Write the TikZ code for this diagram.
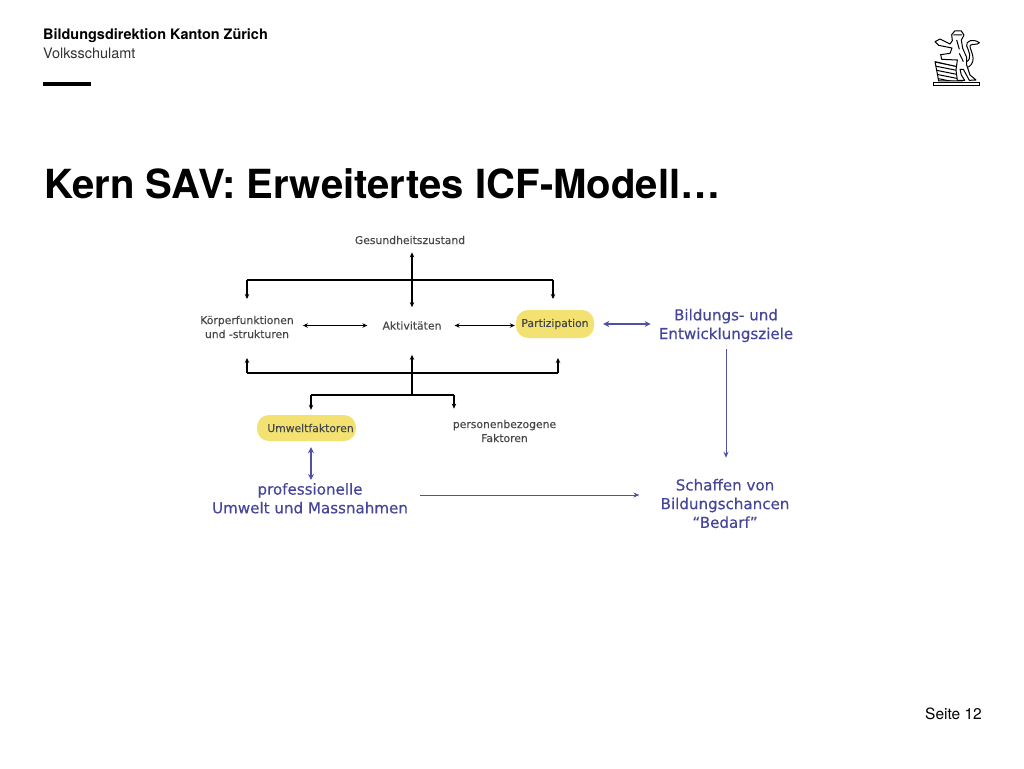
\documentclass[tikz,border=0pt]{standalone}
\usepackage{fontspec}
\setmainfont{TeX Gyre Heros}
\newfontfamily\diagramfont[FakeBold=0.2]{DejaVu Sans}
\newfontfamily\planfont[FakeBold=0.35]{DejaVu Sans}
\usepackage{xcolor}
\usepackage{tikz}
\usetikzlibrary{arrows.meta}
\usetikzlibrary{positioning}
\definecolor{planblue}{HTML}{45459A}
\definecolor{arrowblue}{HTML}{5050A4}
\definecolor{markyellow}{HTML}{F3E272}
\tikzset{
icf/.style = { font = \diagramfont\fontsize{10.8}{14}\selectfont, text = black!72, align = center, inner sep = 0pt },
plan/.style = { font = \planfont\fontsize{15.1}{18.7}\selectfont, text = planblue, align = center, inner sep = 0pt },
marked/.style = { icf, fill = markyellow, rounded corners = 12pt },
tree/.style = { draw = black, line width = 1.4pt },
tree end/.style = { tree, -{Stealth[length = 5pt, width = 4.5pt]} },
tree both/.style = { tree, line width = 1.1pt, {Stealth[length = 5pt, width = 4.5pt]}-{Stealth[length = 5pt, width = 4.5pt]} },
plan end/.style = { draw = arrowblue, line width = 1pt, -{Stealth[length = 6pt, width = 5pt]} },
plan both/.style = { draw = arrowblue, line width = 1.2pt, {Stealth[length = 6pt, width = 6pt]}-{Stealth[length = 6pt, width = 6pt]} },
}
\begin{document}
\begin{tikzpicture}[x = 1pt, y = -1pt]
    \useasboundingbox (0, 0) rectangle (1024, 768);
    % header
    \node[anchor = west, inner sep = 0pt, font = \bfseries\fontsize{14.45}{16}\selectfont] (office) at (43, 35.5) {Bildungsdirektion Kanton Zürich};
    \node[anchor = west, inner sep = 0pt, font = \fontsize{14.45}{16}\selectfont, text = black!80] (unit) at (43, 53) {Volksschulamt};
    \fill[black] (43, 82.2) rectangle (91, 85.8);
    \node[anchor = west, inner sep = 0pt, font = \bfseries\fontsize{40.1}{44}\selectfont] (title) at (44, 184) {Kern SAV: Erweitertes ICF-Modell…};
    \node[anchor = east, inner sep = 0pt, font = \fontsize{15.5}{17}\selectfont] (page) at (982, 714) {Seite 12};
    % logo
    \begin{scope}[shift = {(920, 20)}, scale = 1/3, line width = 1pt, line join = round]
        \fill[black] (38, 185) rectangle (180, 198);
        \fill[white] (42, 188.5) rectangle (176, 194);
        \draw (45, 125) -- (112, 140) -- (128, 183) -- (56, 183) -- cycle;
        \begin{scope}
            \clip (45, 125) -- (112, 140) -- (128, 183) -- (56, 183) -- cycle;
            \foreach \hatch in {125, 137, 149, 161, 173} {
                \draw (40, \hatch) -- (130, \hatch + 18);
            }
        \end{scope}
        \draw (140, 125) .. controls (158, 115) and (145, 90) .. (140, 78) .. controls (136, 62) and (160, 55) .. (178, 68) .. controls (172, 76) and (160, 70) .. (150, 76) .. controls (148, 90) and (175, 120) .. (145, 142);
        \filldraw[fill = white] (45, 65) -- (60, 57) -- (90, 72) -- (97, 62) -- (95, 44) -- (104, 33) -- (124, 33) -- (132, 45) -- (124, 60) -- (128, 85) -- (140, 112) -- (140, 135) -- (150, 165) -- (168, 180) -- (148, 181) -- (130, 148) -- (120, 148) -- (124, 165) -- (134, 181) -- (112, 181) -- (108, 150) -- (112, 120) -- (65, 118) -- (62, 104) -- (90, 100) -- (96, 84) -- (56, 76) -- cycle;
        \draw (100, 45) -- (126, 45) (110, 60) -- (118, 88) (118, 100) -- (130, 125);
    \end{scope}
    % highlighted factors
    \node[marked, minimum width = 78pt, minimum height = 28pt] (partizipation) at (555, 324) {Partizipation};
    \node[marked, minimum width = 99pt, minimum height = 26pt] (umwelt) at (306.5, 428) {\hspace{8pt}Umweltfaktoren};
    % model
    \node[icf] (gesundheit) at (410, 240) {Gesundheitszustand};
    \node[icf] (koerper) at (247, 327) {Körperfunktionen\\und -strukturen};
    \node[icf] (aktivitaet) at (412, 325.5) {Aktivitäten};
    \node[icf] (personen) at (504.5, 431) {personenbezogene\\Faktoren};
    % plan
    \node[plan] (ziele) at (726, 325.5) {Bildungs- und\\Entwicklungsziele};
    \node[plan] (massnahmen) at (310, 498.3) {professionelle\\Umwelt und Massnahmen};
    \node[plan] (bedarf) at (725, 503.5) {Schaffen von\\Bildungschancen\\“Bedarf”};
    % junctions
    \coordinate (upper left) at (247, 280);
    \coordinate (upper right) at (553, 280);
    \coordinate (lower left) at (247, 373);
    \coordinate (lower right) at (558, 373);
    \coordinate (split mid) at (412, 395);
    \coordinate (split left) at (311, 395);
    \coordinate (split right) at (454, 395);
    \path[tree] (upper left) -- (upper right);
    \path[tree end] (upper left) -- (247, 299);
    \path[tree end] (upper right) -- (553, 299);
    \path[tree both, shorten < = 8pt, shorten > = 14pt] (gesundheit.south -| aktivitaet) -- (aktivitaet.north);
    \path[tree both, shorten < = 9pt, shorten > = 15pt] (koerper.east |- aktivitaet) -- (aktivitaet.west);
    \path[tree both, shorten < = 13pt, shorten > = 1pt] (aktivitaet.east) -- (partizipation.west |- aktivitaet);
    \path[tree] (lower left) -- (lower right);
    \path[tree end] (lower left) -- (247, 358);
    \path[tree end] (lower right) -- (558, 358);
    \path[tree end, line width = 1.1pt, shorten > = 25pt] (split mid) -- (aktivitaet.south);
    \path[tree] (split left) -- (split right);
    \path[tree end, shorten > = 5pt] (split left) -- (split left |- umwelt.north);
    \path[tree end, shorten > = 11pt] (split right) -- (split right |- personen.north);
    % plan arrows
    \path[plan both, shorten < = 9pt, shorten > = 8pt] (partizipation.east) -- (ziele.west |- partizipation);
    \path[plan both, shorten < = 6pt, shorten > = 3pt] (split left |- umwelt.south) -- (split left |- massnahmen.north);
    \path[plan end, shorten < = 12pt, shorten > = 21pt] (massnahmen.east |- 420, 495) -- (bedarf.west |- 420, 495);
    \path[plan end, shorten < = 7pt, shorten > = 21pt] (ziele.south) -- (ziele |- bedarf.north);
\end{tikzpicture}
\end{document}
